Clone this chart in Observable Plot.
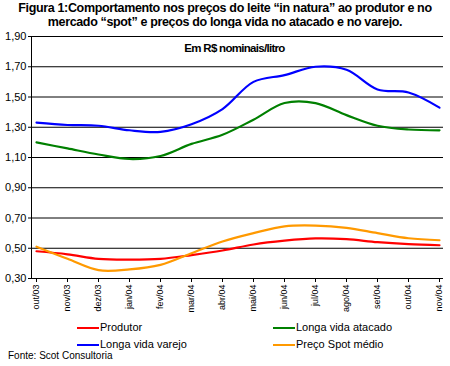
<!DOCTYPE html>
<html><head><meta charset="utf-8">
<script src="https://cdn.jsdelivr.net/npm/d3@7"></script>
<script src="https://cdn.jsdelivr.net/npm/@observablehq/plot@0.6"></script>
<style>
body{margin:0;background:#fff;width:450px;height:366px;overflow:hidden;font-family:Arial,"Liberation Sans",sans-serif;position:relative;}
#title{position:absolute;left:0;top:1px;width:450px;text-align:center;font-weight:bold;font-size:12.5px;letter-spacing:-0.35px;line-height:14px;white-space:nowrap;}
#chart{position:absolute;left:0;top:28px;}
#chart svg{overflow:visible;}
.leg{position:absolute;font-size:11px;line-height:12px;white-space:nowrap;}
.sw{display:inline-block;width:22px;height:2px;vertical-align:middle;margin-right:1px;}
#src{position:absolute;left:8px;top:350px;font-size:10px;}
</style></head>
<body>
<div id="title">Figura 1:Comportamento nos preços do leite “in natura” ao produtor e no<br>mercado “spot” e preços do longa vida no atacado e no varejo.</div>
<div id="chart"></div>
<div id="legend"></div>
<div id="src">Fonte: Scot Consultoria</div>
<script>
const months = ["out/03","nov/03","dez/03","jan/04","fev/04","mar/04","abr/04","mai/04","jun/04","jul/04","ago/04","set/04","out/04","nov/04"];
const seriesNames = ["Produtor","Longa vida atacado","Longa vida varejo","Preço Spot médio"];
const seriesColors = ["#ff0000","#008000","#0000ff","#ff9900"];
const produtor = [0.48,0.46,0.43,0.425,0.43,0.455,0.485,0.525,0.55,0.565,0.56,0.54,0.527,0.52];
const atacado = [1.20,1.16,1.12,1.09,1.11,1.19,1.25,1.35,1.46,1.46,1.38,1.31,1.285,1.28];
const varejo = [1.33,1.315,1.31,1.28,1.27,1.32,1.42,1.60,1.645,1.70,1.68,1.55,1.53,1.43];
const spot = [0.51,0.43,0.355,0.36,0.39,0.467,0.545,0.60,0.645,0.65,0.635,0.60,0.566,0.553];
const yTicks = [0.30,0.50,0.70,0.90,1.10,1.30,1.50,1.70,1.90];
const subtitle = "Em R$ nominais/litro";

const allSeries = [produtor, atacado, varejo, spot];
const data = [];
allSeries.forEach((vals, i) => vals.forEach((v, j) => data.push({series: seriesNames[i], month: months[j], value: v})));

const fmt = d => d.toFixed(2).replace(".", ",");

const plot = Plot.plot({
  width: 450, height: 290,
  marginTop: 8, marginBottom: 40, marginLeft: 31, marginRight: 7,
  style: {fontFamily: "Arial, 'Liberation Sans', sans-serif", fontSize: "11px", color: "#000", background: "#fff", overflow: "visible"},
  x: {type: "point", domain: months, padding: 0, label: null},
  y: {domain: [0.30, 1.90], label: null},
  color: {domain: seriesNames, range: seriesColors},
  marks: [
    Plot.ruleY(yTicks, {stroke: "#000", strokeWidth: 1}),
    Plot.axisY({ticks: yTicks, tickFormat: fmt, tickSize: 3, tickPadding: 2, fontSize: 11, label: null}),
    Plot.axisX({tickRotate: -90, tickSize: 4, tickPadding: 2, fontSize: 9, label: null}),
    Plot.frame({anchor: "left", stroke: "#000"}),
    Plot.lineY(data, {x: "month", y: "value", z: "series", stroke: "series", strokeWidth: 2.2, curve: "catmull-rom"}),
    Plot.text([subtitle], {frameAnchor: "top", dy: 7, dx: -3, text: d => d, fontWeight: "bold", fontSize: 11.5})
  ]
});
d3.select(plot).selectAll("text").filter(function() { return this.textContent === subtitle; }).style("letter-spacing", "-0.7px");
document.getElementById("chart").appendChild(plot);

const legPos = [[77,321],[273,321],[77,338],[273,338]];
const leg = document.getElementById("legend");
seriesNames.forEach((n, i) => {
  const d = document.createElement("div");
  d.className = "leg";
  d.style.left = legPos[i][0] + "px";
  d.style.top = legPos[i][1] + "px";
  d.innerHTML = `<span class="sw" style="background:${seriesColors[i]}"></span>${n}`;
  leg.appendChild(d);
});
</script>
</body></html>
